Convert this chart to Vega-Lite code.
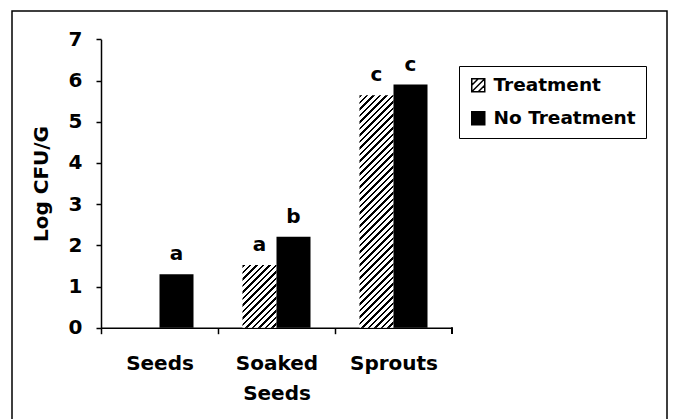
{
"$schema":"https://vega.github.io/schema/vega-lite/v6.json",
"width":655,"height":412,
"autosize":{"type":"none"},
"padding":{"left":12,"top":11,"right":8,"bottom":-4},
"background":"white",
"config":{"view":{"stroke":"black","strokeWidth":1.5},"font":"DejaVu Sans"},
"data":{"values":[
{"category":"Seeds","treatment":"Treatment","value":0,"letter":""},
{"category":"Seeds","treatment":"No Treatment","value":1.30,"letter":"a"},
{"category":"Soaked Seeds","treatment":"Treatment","value":1.52,"letter":"a"},
{"category":"Soaked Seeds","treatment":"No Treatment","value":2.21,"letter":"b"},
{"category":"Sprouts","treatment":"Treatment","value":5.64,"letter":"c"},
{"category":"Sprouts","treatment":"No Treatment","value":5.90,"letter":"c"}
]},
"layer":[
{"mark":{"type":"bar"},
"encoding":{
"x":{"field":"category","type":"nominal","scale":{"domain":["Seeds","Soaked Seeds","Sprouts"],"range":[89,440],"paddingInner":0,"paddingOuter":0},
"axis":{"title":null,"orient":"bottom","offset":-95.3,"labelAngle":0,"tickOffset":-58.5,"labelOffset":58.5,"tickSize":6,"tickWidth":1.5,"tickColor":"black","domainWidth":1.5,"domainColor":"black","labelFont":"DejaVu Sans","labelFontSize":20,"labelFontWeight":"bold","labelColor":"black","labelPadding":20,"labelLineHeight":30,"labelExpr":"datum.label == 'Soaked Seeds' ? ['Soaked','Seeds'] : datum.label"}},
"xOffset":{"field":"treatment","type":"nominal","scale":{"domain":["Treatment","No Treatment"],"paddingInner":0,"paddingOuter":0.72}},
"y":{"field":"value","type":"quantitative","scale":{"domain":[0,7],"range":[316.7,28.3],"nice":false},
"axis":{"title":"Log CFU/G","values":[0,1,2,3,4,5,6,7],"format":"d","grid":false,"offset":-89,"tickSize":5,"tickWidth":1.5,"tickColor":"black","domainWidth":1.5,"domainColor":"black","labelFont":"DejaVu Sans","labelFontSize":20,"labelFontWeight":"bold","labelColor":"black","labelPadding":14,"titleFont":"DejaVu Sans","titleFontSize":20,"titleFontWeight":"bold","titleColor":"black","titlePadding":17}},
"fill":{"field":"treatment","type":"nominal","scale":{"domain":["Treatment","No Treatment"],"range":["white","black"]},
"condition":[
{"test":"datum.category === 'Soaked Seeds' && datum.treatment === 'Treatment'","value":{"gradient":"linear","x1":0,"y1":0,"x2":2.1339,"y2":3.9289,"stops":[
{"offset":0,"color":"#000"},{"offset":0.0082,"color":"#000"},{"offset":0.0082,"color":"#fff"},{"offset":0.0204,"color":"#fff"},
{"offset":0.0204,"color":"#000"},{"offset":0.0286,"color":"#000"},{"offset":0.0286,"color":"#fff"},{"offset":0.0408,"color":"#fff"},
{"offset":0.0408,"color":"#000"},{"offset":0.0490,"color":"#000"},{"offset":0.0490,"color":"#fff"},{"offset":0.0612,"color":"#fff"},
{"offset":0.0612,"color":"#000"},{"offset":0.0694,"color":"#000"},{"offset":0.0694,"color":"#fff"},{"offset":0.0816,"color":"#fff"},
{"offset":0.0816,"color":"#000"},{"offset":0.0898,"color":"#000"},{"offset":0.0898,"color":"#fff"},{"offset":0.1020,"color":"#fff"},
{"offset":0.1020,"color":"#000"},{"offset":0.1102,"color":"#000"},{"offset":0.1102,"color":"#fff"},{"offset":0.1224,"color":"#fff"},
{"offset":0.1224,"color":"#000"},{"offset":0.1306,"color":"#000"},{"offset":0.1306,"color":"#fff"},{"offset":0.1429,"color":"#fff"},
{"offset":0.1429,"color":"#000"},{"offset":0.1510,"color":"#000"},{"offset":0.1510,"color":"#fff"},{"offset":0.1633,"color":"#fff"},
{"offset":0.1633,"color":"#000"},{"offset":0.1714,"color":"#000"},{"offset":0.1714,"color":"#fff"},{"offset":0.1837,"color":"#fff"},
{"offset":0.1837,"color":"#000"},{"offset":0.1918,"color":"#000"},{"offset":0.1918,"color":"#fff"},{"offset":0.2041,"color":"#fff"},
{"offset":0.2041,"color":"#000"},{"offset":0.2122,"color":"#000"},{"offset":0.2122,"color":"#fff"},{"offset":0.2245,"color":"#fff"},
{"offset":0.2245,"color":"#000"},{"offset":0.2327,"color":"#000"},{"offset":0.2327,"color":"#fff"},{"offset":0.2449,"color":"#fff"},
{"offset":0.2449,"color":"#000"},{"offset":0.2531,"color":"#000"},{"offset":0.2531,"color":"#fff"},{"offset":0.2653,"color":"#fff"},
{"offset":0.2653,"color":"#000"},{"offset":0.2735,"color":"#000"},{"offset":0.2735,"color":"#fff"},{"offset":0.2857,"color":"#fff"},
{"offset":0.2857,"color":"#000"},{"offset":0.2939,"color":"#000"},{"offset":0.2939,"color":"#fff"},{"offset":0.3061,"color":"#fff"},
{"offset":0.3061,"color":"#000"},{"offset":0.3143,"color":"#000"},{"offset":0.3143,"color":"#fff"},{"offset":0.3265,"color":"#fff"},
{"offset":0.3265,"color":"#000"},{"offset":0.3347,"color":"#000"},{"offset":0.3347,"color":"#fff"},{"offset":0.3469,"color":"#fff"},
{"offset":0.3469,"color":"#000"},{"offset":0.3551,"color":"#000"},{"offset":0.3551,"color":"#fff"},{"offset":0.3673,"color":"#fff"}
]}},
{"test":"datum.category === 'Sprouts' && datum.treatment === 'Treatment'","value":{"gradient":"linear","x1":0,"y1":0,"x2":0.1963,"y2":1.3418,"stops":[
{"offset":0,"color":"#000"},{"offset":0.0082,"color":"#000"},{"offset":0.0082,"color":"#fff"},{"offset":0.0204,"color":"#fff"},
{"offset":0.0204,"color":"#000"},{"offset":0.0286,"color":"#000"},{"offset":0.0286,"color":"#fff"},{"offset":0.0408,"color":"#fff"},
{"offset":0.0408,"color":"#000"},{"offset":0.0490,"color":"#000"},{"offset":0.0490,"color":"#fff"},{"offset":0.0612,"color":"#fff"},
{"offset":0.0612,"color":"#000"},{"offset":0.0694,"color":"#000"},{"offset":0.0694,"color":"#fff"},{"offset":0.0816,"color":"#fff"},
{"offset":0.0816,"color":"#000"},{"offset":0.0898,"color":"#000"},{"offset":0.0898,"color":"#fff"},{"offset":0.1020,"color":"#fff"},
{"offset":0.1020,"color":"#000"},{"offset":0.1102,"color":"#000"},{"offset":0.1102,"color":"#fff"},{"offset":0.1224,"color":"#fff"},
{"offset":0.1224,"color":"#000"},{"offset":0.1306,"color":"#000"},{"offset":0.1306,"color":"#fff"},{"offset":0.1429,"color":"#fff"},
{"offset":0.1429,"color":"#000"},{"offset":0.1510,"color":"#000"},{"offset":0.1510,"color":"#fff"},{"offset":0.1633,"color":"#fff"},
{"offset":0.1633,"color":"#000"},{"offset":0.1714,"color":"#000"},{"offset":0.1714,"color":"#fff"},{"offset":0.1837,"color":"#fff"},
{"offset":0.1837,"color":"#000"},{"offset":0.1918,"color":"#000"},{"offset":0.1918,"color":"#fff"},{"offset":0.2041,"color":"#fff"},
{"offset":0.2041,"color":"#000"},{"offset":0.2122,"color":"#000"},{"offset":0.2122,"color":"#fff"},{"offset":0.2245,"color":"#fff"},
{"offset":0.2245,"color":"#000"},{"offset":0.2327,"color":"#000"},{"offset":0.2327,"color":"#fff"},{"offset":0.2449,"color":"#fff"},
{"offset":0.2449,"color":"#000"},{"offset":0.2531,"color":"#000"},{"offset":0.2531,"color":"#fff"},{"offset":0.2653,"color":"#fff"},
{"offset":0.2653,"color":"#000"},{"offset":0.2735,"color":"#000"},{"offset":0.2735,"color":"#fff"},{"offset":0.2857,"color":"#fff"},
{"offset":0.2857,"color":"#000"},{"offset":0.2939,"color":"#000"},{"offset":0.2939,"color":"#fff"},{"offset":0.3061,"color":"#fff"},
{"offset":0.3061,"color":"#000"},{"offset":0.3143,"color":"#000"},{"offset":0.3143,"color":"#fff"},{"offset":0.3265,"color":"#fff"},
{"offset":0.3265,"color":"#000"},{"offset":0.3347,"color":"#000"},{"offset":0.3347,"color":"#fff"},{"offset":0.3469,"color":"#fff"},
{"offset":0.3469,"color":"#000"},{"offset":0.3551,"color":"#000"},{"offset":0.3551,"color":"#fff"},{"offset":0.3673,"color":"#fff"},
{"offset":0.3673,"color":"#000"},{"offset":0.3755,"color":"#000"},{"offset":0.3755,"color":"#fff"},{"offset":0.3878,"color":"#fff"},
{"offset":0.3878,"color":"#000"},{"offset":0.3959,"color":"#000"},{"offset":0.3959,"color":"#fff"},{"offset":0.4082,"color":"#fff"},
{"offset":0.4082,"color":"#000"},{"offset":0.4163,"color":"#000"},{"offset":0.4163,"color":"#fff"},{"offset":0.4286,"color":"#fff"},
{"offset":0.4286,"color":"#000"},{"offset":0.4367,"color":"#000"},{"offset":0.4367,"color":"#fff"},{"offset":0.4490,"color":"#fff"},
{"offset":0.4490,"color":"#000"},{"offset":0.4571,"color":"#000"},{"offset":0.4571,"color":"#fff"},{"offset":0.4694,"color":"#fff"},
{"offset":0.4694,"color":"#000"},{"offset":0.4776,"color":"#000"},{"offset":0.4776,"color":"#fff"},{"offset":0.4898,"color":"#fff"},
{"offset":0.4898,"color":"#000"},{"offset":0.4980,"color":"#000"},{"offset":0.4980,"color":"#fff"},{"offset":0.5102,"color":"#fff"},
{"offset":0.5102,"color":"#000"},{"offset":0.5184,"color":"#000"},{"offset":0.5184,"color":"#fff"},{"offset":0.5306,"color":"#fff"},
{"offset":0.5306,"color":"#000"},{"offset":0.5388,"color":"#000"},{"offset":0.5388,"color":"#fff"},{"offset":0.5510,"color":"#fff"},
{"offset":0.5510,"color":"#000"},{"offset":0.5592,"color":"#000"},{"offset":0.5592,"color":"#fff"},{"offset":0.5714,"color":"#fff"},
{"offset":0.5714,"color":"#000"},{"offset":0.5796,"color":"#000"},{"offset":0.5796,"color":"#fff"},{"offset":0.5918,"color":"#fff"},
{"offset":0.5918,"color":"#000"},{"offset":0.6000,"color":"#000"},{"offset":0.6000,"color":"#fff"},{"offset":0.6122,"color":"#fff"},
{"offset":0.6122,"color":"#000"},{"offset":0.6204,"color":"#000"},{"offset":0.6204,"color":"#fff"},{"offset":0.6327,"color":"#fff"},
{"offset":0.6327,"color":"#000"},{"offset":0.6408,"color":"#000"},{"offset":0.6408,"color":"#fff"},{"offset":0.6531,"color":"#fff"},
{"offset":0.6531,"color":"#000"},{"offset":0.6612,"color":"#000"},{"offset":0.6612,"color":"#fff"},{"offset":0.6735,"color":"#fff"},
{"offset":0.6735,"color":"#000"},{"offset":0.6816,"color":"#000"},{"offset":0.6816,"color":"#fff"},{"offset":0.6939,"color":"#fff"},
{"offset":0.6939,"color":"#000"},{"offset":0.7020,"color":"#000"},{"offset":0.7020,"color":"#fff"},{"offset":0.7143,"color":"#fff"},
{"offset":0.7143,"color":"#000"},{"offset":0.7224,"color":"#000"},{"offset":0.7224,"color":"#fff"},{"offset":0.7347,"color":"#fff"},
{"offset":0.7347,"color":"#000"},{"offset":0.7429,"color":"#000"},{"offset":0.7429,"color":"#fff"},{"offset":0.7551,"color":"#fff"},
{"offset":0.7551,"color":"#000"},{"offset":0.7633,"color":"#000"},{"offset":0.7633,"color":"#fff"},{"offset":0.7755,"color":"#fff"},
{"offset":0.7755,"color":"#000"},{"offset":0.7837,"color":"#000"},{"offset":0.7837,"color":"#fff"},{"offset":0.7959,"color":"#fff"},
{"offset":0.7959,"color":"#000"},{"offset":0.8041,"color":"#000"},{"offset":0.8041,"color":"#fff"},{"offset":0.8163,"color":"#fff"},
{"offset":0.8163,"color":"#000"},{"offset":0.8245,"color":"#000"},{"offset":0.8245,"color":"#fff"},{"offset":0.8367,"color":"#fff"},
{"offset":0.8367,"color":"#000"},{"offset":0.8449,"color":"#000"},{"offset":0.8449,"color":"#fff"},{"offset":0.8571,"color":"#fff"},
{"offset":0.8571,"color":"#000"},{"offset":0.8653,"color":"#000"},{"offset":0.8653,"color":"#fff"},{"offset":0.8776,"color":"#fff"},
{"offset":0.8776,"color":"#000"},{"offset":0.8857,"color":"#000"},{"offset":0.8857,"color":"#fff"},{"offset":0.8980,"color":"#fff"}
]}}
],
"legend":{"title":null,"orient":"none","legendX":447,"legendY":55,"padding":10,"rowPadding":13,"strokeColor":"black","fillColor":"white","symbolType":"M-1,-1H1V1H-1Z M-1,0L0,-1 M-1,1L1,-1 M0,1L1,0","symbolSize":169,"symbolStrokeColor":"black","symbolStrokeWidth":1.5,"symbolOpacity":1,"labelFont":"DejaVu Sans","labelFontSize":18.5,"labelFontWeight":"bold","labelColor":"black","labelOffset":6}
}
}},
{"mark":{"type":"text","baseline":"alphabetic","dy":-14,"fontSize":20,"fontWeight":"bold","font":"DejaVu Sans","color":"black"},
"encoding":{
"x":{"field":"category","type":"nominal"},
"xOffset":{"field":"treatment","type":"nominal"},
"y":{"field":"value","type":"quantitative"},
"text":{"field":"letter"}}},
{"mark":{"type":"rule","color":"black","strokeWidth":1.5},
"encoding":{
"x":{"datum":"Sprouts","type":"nominal","bandPosition":1},
"y":{"datum":0,"type":"quantitative"},
"y2":{"datum":-0.15}}}
]
}
